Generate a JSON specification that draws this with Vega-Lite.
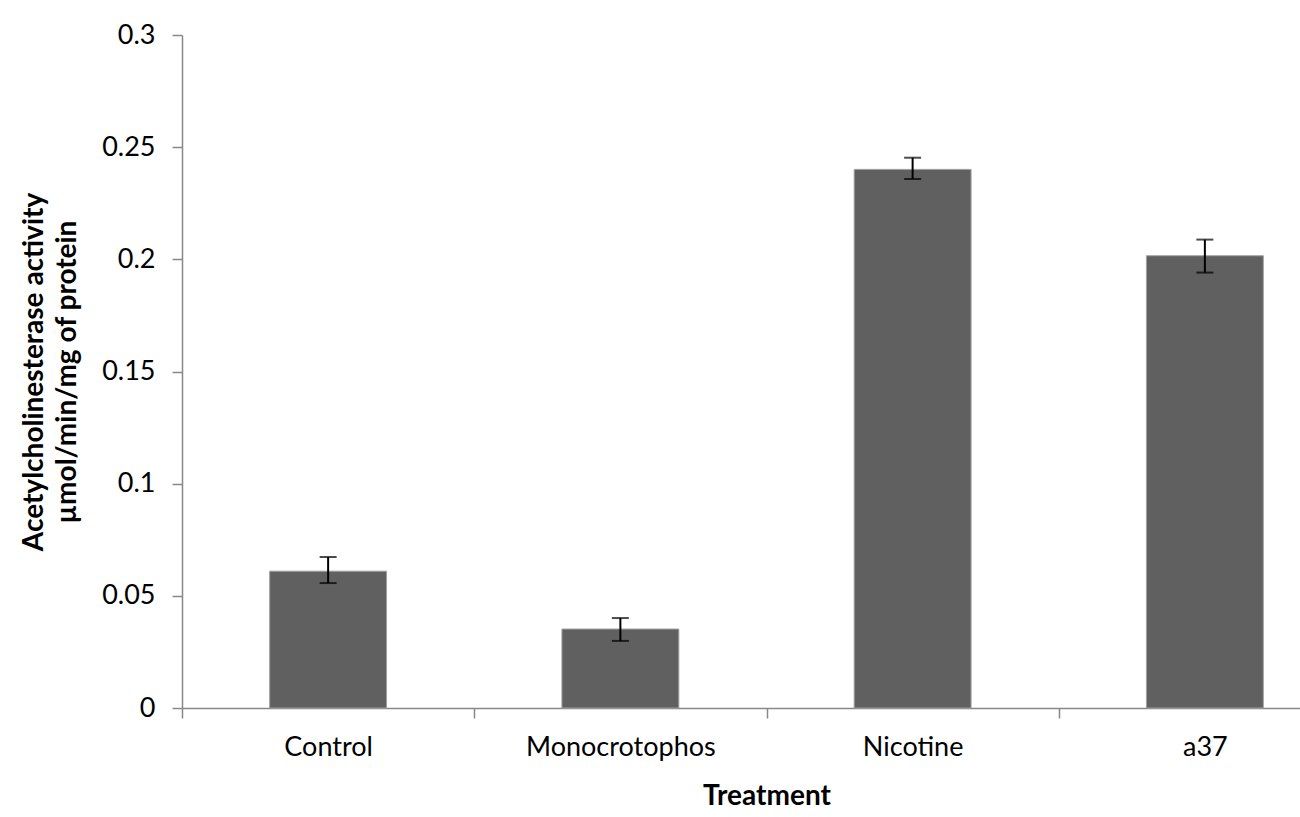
{
  "$schema": "https://vega.github.io/schema/vega-lite/v6.json",
  "autosize": {"type": "none"},
  "width": 1118,
  "height": 673,
  "padding": {"left": 182, "top": 35, "right": 0, "bottom": 109},
  "background": "white",
  "config": {
    "view": {"stroke": null},
    "font": "Lato",
    "axis": {"labelFont": "Lato", "titleFont": "Lato", "labelColor": "#000000", "titleColor": "#000000"}
  },
  "data": {
    "values": [
      {"Treatment": "Control", "activity": 0.061, "lo": 0.0557, "hi": 0.0673},
      {"Treatment": "Monocrotophos", "activity": 0.0352, "lo": 0.0299, "hi": 0.0401},
      {"Treatment": "Nicotine", "activity": 0.2401, "lo": 0.2358, "hi": 0.2453},
      {"Treatment": "a37", "activity": 0.2016, "lo": 0.1941, "hi": 0.2088}
    ]
  },
  "encoding": {
    "x": {
      "field": "Treatment",
      "type": "nominal",
      "sort": null,
      "scale": {"range": [0, 1169], "paddingInner": 0, "paddingOuter": 0},
      "axis": {
        "title": "Treatment",
        "titleFontSize": 28,
        "titleFontWeight": "bold",
        "titlePadding": 22,
        "labelFontSize": 27,
        "labelLimit": 500,
        "labelAngle": 0,
        "labelPadding": 16,
        "tickSize": 10,
        "tickBand": "extent",
        "tickColor": "#888888",
        "domainColor": "#888888",
        "domainWidth": 1.5,
        "tickWidth": 1.5
      }
    }
  },
  "layer": [
    {
      "mark": {"type": "bar", "color": "#606060", "stroke": "#a0a0a0", "strokeWidth": 1, "width": {"band": 0.4}},
      "encoding": {
        "y": {
          "field": "activity",
          "type": "quantitative",
          "scale": {"domain": [0, 0.3], "nice": false},
          "axis": {
            "title": ["Acetylcholinesterase activity", "µmol/min/mg of protein"],
            "titleFontSize": 28,
            "titleFontWeight": "bold",
            "titlePadding": 20,
            "titleLineHeight": 33,
            "values": [0, 0.05, 0.1, 0.15, 0.2, 0.25, 0.3],
            "format": "~g",
            "labelFontSize": 27,
            "labelPadding": 17,
            "tickSize": 10,
            "grid": false,
            "tickColor": "#888888",
            "domainColor": "#888888",
            "domainWidth": 1.5,
            "tickWidth": 1.5
          }
        }
      }
    },
    {
      "mark": {"type": "rule", "color": "#000000", "strokeWidth": 2},
      "encoding": {
        "y": {"field": "lo", "type": "quantitative"},
        "y2": {"field": "hi"}
      }
    },
    {
      "mark": {"type": "tick", "color": "#000000", "size": 17, "thickness": 2},
      "encoding": {"y": {"field": "lo", "type": "quantitative"}}
    },
    {
      "mark": {"type": "tick", "color": "#000000", "size": 17, "thickness": 2},
      "encoding": {"y": {"field": "hi", "type": "quantitative"}}
    }
  ]
}
